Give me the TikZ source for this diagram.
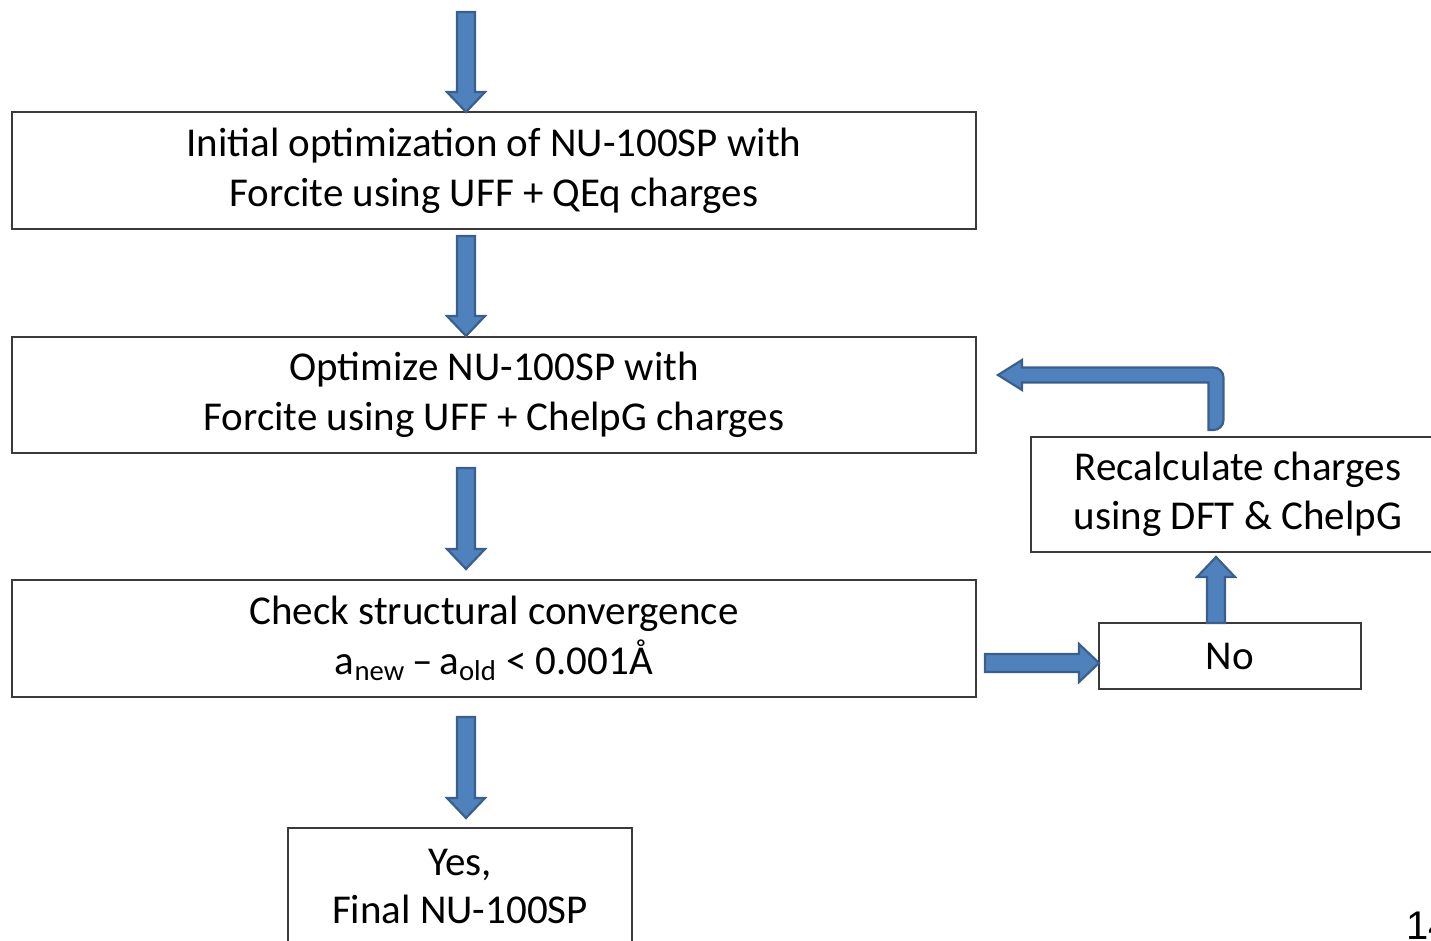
\documentclass[tikz,border=0pt]{standalone}
\usepackage{fontspec}
\setmainfont{Carlito}
\newfontfamily\pagefont{Liberation Sans}
\usetikzlibrary{calc}
\definecolor{afill}{HTML}{4F81BD}
\definecolor{aline}{HTML}{3A5F8C}
\definecolor{boxc}{HTML}{3A3A3A}
\tikzset{
  box/.style={draw=boxc, line width=0.8pt, fill=white, align=center, inner sep=0pt,
    font=\fontsize{20.5}{25}\selectfont},
  fat/.style={fill=afill, draw=aline, line width=1.1pt, line join=miter},
}
% straight fat arrows between two named points
\newcommand\fatdown[2]{\path[fat] let \p1=(#1), \p2=(#2) in
  (\x1-4.5pt,\y1) -- (\x1+4.5pt,\y1) -- (\x1+4.5pt,\y2+10pt) -- (\x1+9.5pt,\y2+10pt)
  -- (\x1,\y2) -- (\x1-9.5pt,\y2+10pt) -- (\x1-4.5pt,\y2+10pt) -- cycle;}
\newcommand\fatright[2]{\path[fat] let \p1=(#1), \p2=(#2) in
  (\x1,\y1+4.5pt) -- (\x2-10pt,\y1+4.5pt) -- (\x2-10pt,\y1+9.5pt) -- (\x2,\y1)
  -- (\x2-10pt,\y1-9.5pt) -- (\x2-10pt,\y1-4.5pt) -- (\x1,\y1-4.5pt) -- cycle;}
\newcommand\fatup[2]{\path[fat] let \p1=(#1), \p2=(#2) in
  (\x1-4.5pt,\y1) -- (\x1-4.5pt,\y2-10pt) -- (\x1-9.5pt,\y2-10pt) -- (\x1,\y2)
  -- (\x1+9.5pt,\y2-10pt) -- (\x1+4.5pt,\y2-10pt) -- (\x1+4.5pt,\y1) -- cycle;}
\begin{document}
\begin{tikzpicture}[x=0.5pt,y=-0.5pt]
\useasboundingbox (0,0) rectangle (1431,941);
\clip (0,0) rectangle (1431,941);

% boxes
\node[box, minimum width=482pt, minimum height=58.5pt] (b1) at (494,170.5)
  {Initial optimization of NU-100SP with\\Forcite using UFF + QEq charges};
\node[box, minimum width=482pt, minimum height=58pt] (b2) at (494,395)
  {Optimize NU-100SP with\\Forcite using UFF + ChelpG charges};
\node[box, minimum width=482pt, minimum height=58.5pt] (b3) at (494,638.5)
  {Check structural convergence\\a\textsubscript{new}\,\textendash\,a\textsubscript{old} {<} 0.001Å};
\node[box, minimum width=207pt, minimum height=57.5pt, font=\fontsize{20.5}{24.5}\selectfont] (b4) at (1238,494.5)
  {Recalculate charges\\using DFT \& ChelpG};
\node[box, minimum width=131pt, minimum height=33pt] (b5) at (1230,656) {No};
\node[box, minimum width=172pt, minimum height=58pt, font=\fontsize{20.5}{24}\selectfont] (b6) at (460,886)
  {Yes,\\Final NU-100SP};

% page number (cut at the edge)
\node[anchor=north west, inner sep=0pt, font=\pagefont\fontsize{20}{24}\selectfont] (pg) at (1406,912) {14};

% arrow end points
\coordinate (s1) at (466,12);   \coordinate (t1) at (466,112);
\coordinate (s2) at (466,236);  \coordinate (t2) at (466,336);
\coordinate (s3) at (466,468);  \coordinate (t3) at (466,569);
\coordinate (s4) at (466,717);  \coordinate (t4) at (466,818);
\coordinate (sr) at (985,663);  \coordinate (tr) at (1099,663);
\coordinate (su) at (1216,623); \coordinate (tu) at (1216,557);
\coordinate (sb) at (1216,430); \coordinate (cb) at (1216,375); \coordinate (tb) at (998,375);

\fatdown{s1}{t1}
\fatdown{s2}{t2}
\fatdown{s3}{t3}
\fatdown{s4}{t4}
\fatright{sr}{tr}
\fatup{su}{tu}

% bent arrow back to the optimisation box
\path[fat] let \p1=(sb), \p2=(cb), \p3=(tb) in
  (\x1-3.75pt,\y1) -- (\x1-3.75pt,\y2-3.75pt) -- (\x3+12pt,\y2-3.75pt)
  -- (\x3+12pt,\y2-7.5pt) -- (\x3,\y2) -- (\x3+12pt,\y2+7.5pt)
  -- (\x3+12pt,\y2+3.75pt) [rounded corners=5pt] -- (\x1+3.75pt,\y2+3.75pt)
  -- (\x1+3.75pt,\y1) [sharp corners] -- cycle;
\end{tikzpicture}
\end{document}
